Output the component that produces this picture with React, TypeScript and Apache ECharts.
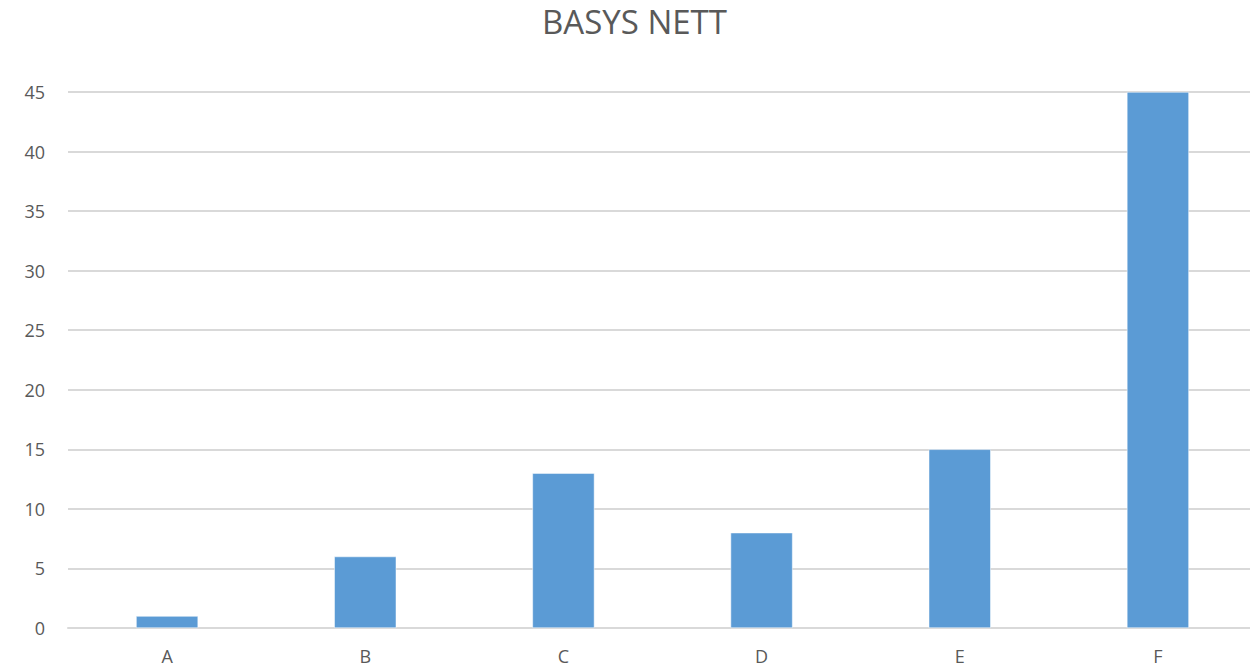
import React, { useEffect, useRef } from "react";
import * as echarts from "echarts";

const categories = ["A", "B", "C", "D", "E", "F"];
const values = [1, 6, 13, 8, 15, 45];
const yTicks = [0, 5, 10, 15, 20, 25, 30, 35, 40, 45];
const titleText = "BASYS NETT";

export default function App() {
  const ref = useRef<HTMLDivElement>(null);
  useEffect(() => {
    const chart = echarts.init(ref.current!, null, { renderer: "svg" });
    chart.setOption({
      animation: false,
      backgroundColor: "#ffffff",
      title: {
        text: titleText,
        left: 537,
        top: 0,
        textStyle: { fontFamily: "Open Sans", fontSize: 33, fontWeight: "normal", color: "#595959" },
      },
      grid: { left: 68, right: 0, top: 92, bottom: 44, containLabel: false },
      xAxis: {
        type: "category",
        data: categories,
        axisLine: { show: true, lineStyle: { color: "#D9D9D9", width: 2 } },
        axisTick: { show: false },
        axisLabel: { color: "#595959", fontFamily: "Open Sans", fontSize: 18, margin: 19 },
      },
      yAxis: {
        type: "value",
        min: yTicks[0],
        max: yTicks[yTicks.length - 1],
        interval: 5,
        axisLine: { show: false },
        axisTick: { show: false },
        splitLine: { lineStyle: { color: "#D9D9D9", width: 2 } },
        axisLabel: { color: "#595959", fontFamily: "Open Sans", fontSize: 18, margin: 23 },
      },
      series: [
        {
          type: "bar",
          data: values,
          barWidth: 62,
          itemStyle: { color: "#5B9BD5", borderColor: "#ffffff", borderWidth: 0.5 },
        },
      ],
    });
    return () => chart.dispose();
  }, []);
  return (
    <div
      ref={ref}
      style={{ position: "fixed", left: 0, top: 0, width: 1257, height: 672 }}
    />
  );
}
